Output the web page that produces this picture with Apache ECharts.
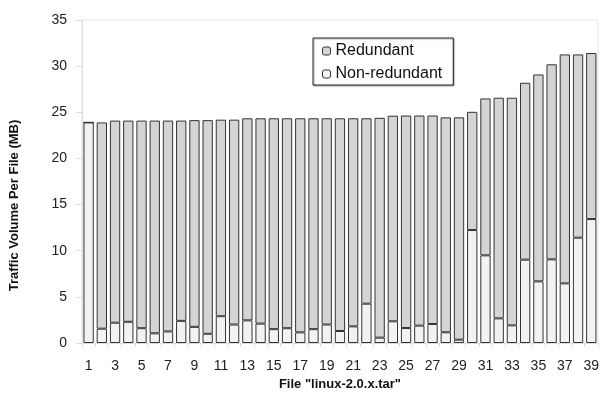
<!DOCTYPE html>
<html><head><meta charset="utf-8">
<script src="https://cdn.jsdelivr.net/npm/echarts@6/dist/echarts.min.js"></script>
<style>html,body{margin:0;padding:0;background:#fff}#c{width:602px;height:400px}</style>
</head><body><div id="c"></div>
<script>
const categories = Array.from({length: 39}, (_, i) => String(i + 1));
const totals = [23.9,23.9,24.1,24.1,24.1,24.1,24.1,24.1,24.15,24.15,24.2,24.2,
  24.35,24.35,24.35,24.35,24.35,24.35,24.35,24.35,24.35,24.35,24.4,24.63,24.65,
  24.65,24.65,24.45,24.45,25.05,26.5,26.58,26.58,28.2,29.1,30.2,31.27,31.27,31.42];
const nonRedundant = [23.9,1.55,2.2,2.3,1.6,1.05,1.25,2.4,1.75,1.0,2.9,2.0,
  2.45,2.1,1.5,1.6,1.15,1.5,2.0,1.3,1.8,4.26,0.58,2.35,1.62,
  1.88,2.06,1.16,0.36,12.24,9.5,2.67,1.91,9.03,6.68,9.06,6.46,11.41,13.43];
const redundant = totals.map((t, i) => +(t - nonRedundant[i]).toFixed(2));
const yTicks = [0,5,10,15,20,25,30,35];

const font = 'Liberation Sans, Arial, sans-serif';
const chart = echarts.init(document.getElementById('c'), null, {renderer: 'canvas'});
chart.setOption({
  animation: false,
  backgroundColor: '#fff',
  grid: {left: 79, right: 1, top: 20, bottom: 57, show: true, borderColor: '#e6e6e6', borderWidth: 1},
  legend: {
    orient: 'vertical', left: 313, top: 38,
    padding: [5, 11, 3, 9], itemGap: 7,
    backgroundColor: '#fff', borderColor: '#222', borderWidth: 1,
    shadowColor: 'rgba(0,0,0,0.35)', shadowOffsetX: 1, shadowOffsetY: 1, shadowBlur: 1,
    itemWidth: 8, itemHeight: 8,
    textStyle: {fontFamily: font, fontSize: 16, color: '#111'},
    data: [
      {name: 'Redundant', itemStyle: {color: '#d4d4d4', borderColor: '#333', borderWidth: 1}},
      {name: 'Non-redundant', itemStyle: {color: '#f2f2f2', borderColor: '#333', borderWidth: 1}}
    ]
  },
  xAxis: {
    type: 'category', data: categories,
    name: 'File "linux-2.0.x.tar"', nameLocation: 'middle', nameGap: 34,
    nameTextStyle: {fontFamily: font, fontSize: 13, fontWeight: 'bold', color: '#111'},
    axisLine: {lineStyle: {color: '#ddd'}},
    axisTick: {show: true, interval: 0, length: 4, lineStyle: {color: '#ddd'}},
    axisLabel: {interval: 1, margin: 16, fontFamily: font, fontSize: 14, color: '#222'}
  },
  yAxis: {
    type: 'value', min: 0, max: 35, interval: 5,
    name: 'Traffic Volume Per File (MB)', nameLocation: 'middle', nameGap: 61,
    nameTextStyle: {fontFamily: font, fontSize: 13, fontWeight: 'bold', color: '#111', padding: [0, 48, 0, 0]},
    axisLine: {show: true, lineStyle: {color: '#ddd'}},
    axisTick: {show: true, length: 6, lineStyle: {color: '#ddd'}},
    splitLine: {show: false},
    axisLabel: {margin: 15, fontFamily: font, fontSize: 14, color: '#222',
      formatter: v => yTicks.includes(v) ? String(v) : ''}
  },
  series: [
    {name: 'Non-redundant', type: 'bar', stack: 'a', data: nonRedundant, barCategoryGap: '22%',
      itemStyle: {color: '#f2f2f2', borderColor: '#333', borderWidth: 1}},
    {name: 'Redundant', type: 'bar', stack: 'a', data: redundant, barCategoryGap: '22%',
      itemStyle: {color: '#d4d4d4', borderColor: '#333', borderWidth: 1}}
  ]
});
</script></body></html>
